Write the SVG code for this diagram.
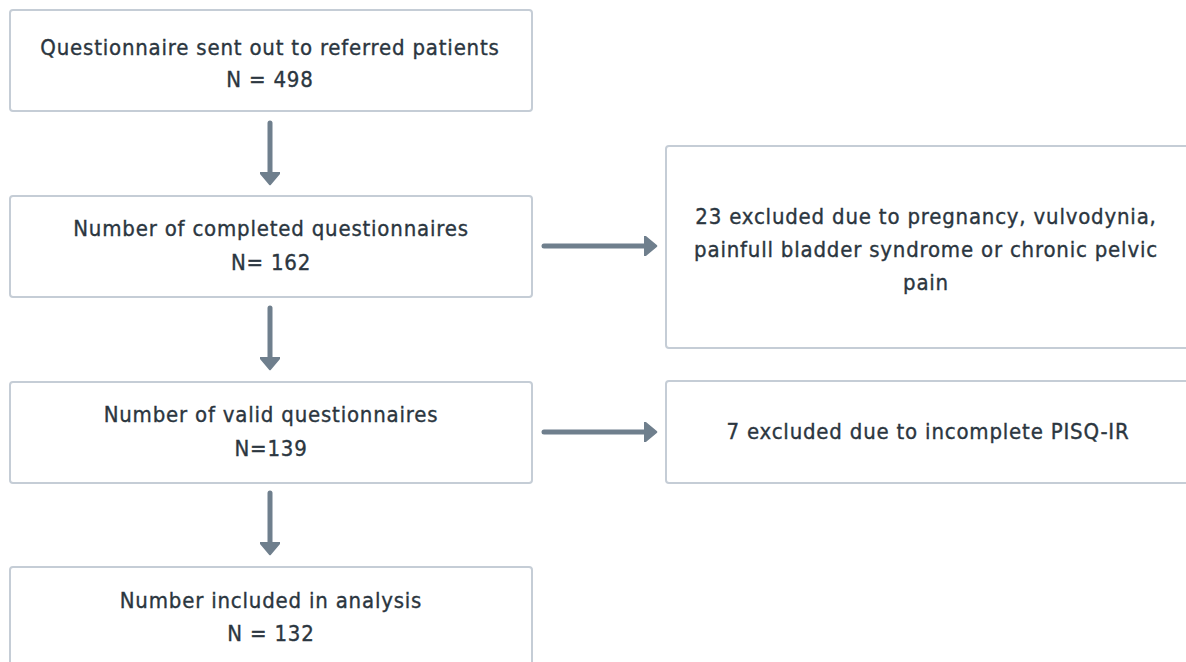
<svg xmlns="http://www.w3.org/2000/svg" width="1186" height="662" viewBox="0 0 1186 662">
<defs>
<style>
.box{fill:#fff;stroke:#c5cdd6;stroke-width:2}
.t{font-family:"DejaVu Sans Condensed","Liberation Sans",sans-serif;font-size:22px;letter-spacing:0.8px;fill:#2b3640;stroke:#2b3640;stroke-width:0.35;text-anchor:middle}
.c{stroke:#6f7f8d;stroke-width:5;fill:none;stroke-linecap:round}
</style>
<marker id="ah" markerWidth="4" markerHeight="4" refX="1.2" refY="2" orient="auto" markerUnits="strokeWidth">
<path d="M0,0 L2.4,2 L0,4 Z" fill="#6f7f8d" stroke="#6f7f8d" stroke-width="0.5" stroke-linejoin="round"/>
</marker>
</defs>
<rect width="1186" height="662" fill="#fff"/>
<g id="n1"><rect class="box" x="10" y="10" width="522" height="101" rx="3"/>
<text class="t" x="270" y="55">Questionnaire sent out to referred patients</text>
<text class="t" x="270" y="87">N = 498</text></g>
<g id="n2"><rect class="box" x="10" y="196" width="522" height="101" rx="3"/>
<text class="t" x="271" y="236">Number of completed questionnaires</text>
<text class="t" x="271" y="270">N= 162</text></g>
<g id="n3"><rect class="box" x="10" y="382" width="522" height="101" rx="3"/>
<text class="t" x="271" y="422">Number of valid questionnaires</text>
<text class="t" x="271" y="456">N=139</text></g>
<g id="n4"><rect class="box" x="10" y="567" width="522" height="110" rx="3"/>
<text class="t" x="271" y="608">Number included in analysis</text>
<text class="t" x="271" y="641">N = 132</text></g>
<g id="n5"><rect class="box" x="666" y="146" width="530" height="202" rx="3"/>
<text class="t" x="926" y="224">23 excluded due to pregnancy, vulvodynia,</text>
<text class="t" x="926" y="257">painfull bladder syndrome or chronic pelvic</text>
<text class="t" x="926" y="290">pain</text></g>
<g id="n6"><rect class="box" x="666" y="381" width="530" height="102" rx="3"/>
<text class="t" x="928" y="439">7 excluded due to incomplete PISQ-IR</text></g>
<g id="connectors">
<line class="c" x1="270" y1="123" x2="270" y2="178" marker-end="url(#ah)"/>
<line class="c" x1="270" y1="308" x2="270" y2="363" marker-end="url(#ah)"/>
<line class="c" x1="270" y1="493" x2="270" y2="548" marker-end="url(#ah)"/>
<line class="c" x1="544" y1="246" x2="650" y2="246" marker-end="url(#ah)"/>
<line class="c" x1="544" y1="432" x2="650" y2="432" marker-end="url(#ah)"/>
</g>
</svg>
